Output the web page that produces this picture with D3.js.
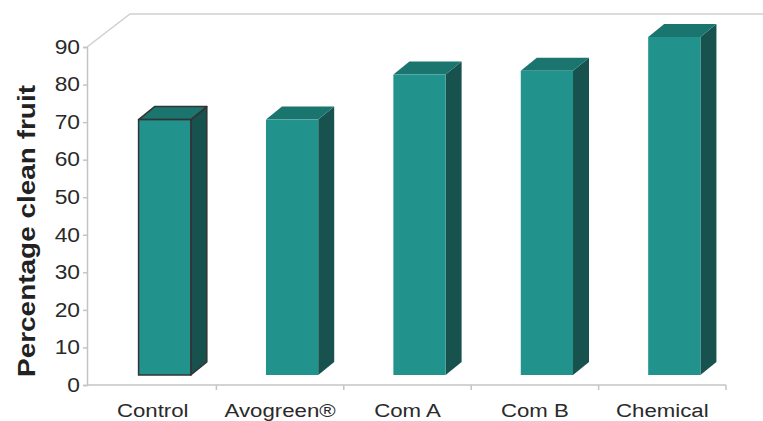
<!DOCTYPE html>
<html>
<head>
<meta charset="utf-8">
<script src="https://cdn.jsdelivr.net/npm/d3@7"></script>
<style>
  html, body { margin: 0; padding: 0; background: #fff; }
  svg { display: block; font-family: "Liberation Sans", Arial, sans-serif; }
</style>
</head>
<body>
<svg id="chart" width="763" height="421"></svg>
<script>
// Treatments and the share of clean fruit for each
const categories = ["Control", "Avogreen®", "Com A", "Com B", "Chemical"];
const values = [68, 68, 80, 81, 90];
const yTicks = [0, 10, 20, 30, 40, 50, 60, 70, 80, 90];
const outlined = [true, false, false, false, false];

const svg = d3.select("#chart");
const W = 763, H = 421;
const stretch = 1.17; // labels are set slightly wide

const x = d3.scaleBand().domain(categories).range([89, 726]).padding(0);
const y = d3.scaleLinear().domain([0, 90]).range([385, 47]);

// 3D projection offsets
const wallDx = 43, wallDy = -33;       // depth of the back wall
const barShiftX = 12, barShiftY = -10; // bars sit part-way into the depth
const sideDx = 16, sideDy = -13;       // depth of each column
const barW = x.bandwidth() * 0.41;

// Back wall outline: left edge, diagonal and top edge
svg.append("path")
  .attr("d", `M${x.range()[0] - 2},${y(90)} L${x.range()[0] - 2 + wallDx},${y(90) + wallDy} L${W},${y(90) + wallDy}`)
  .attr("fill", "none").attr("stroke", "#cfcfcf").attr("stroke-width", 1.5);

// Value axis
const yAxis = svg.append("g")
  .attr("transform", `translate(${x.range()[0] - 2},0)`)
  .call(d3.axisLeft(y).tickValues(yTicks).tickSize(4).tickPadding(3));
yAxis.select(".domain").attr("stroke", "#c4c4c4").attr("stroke-width", 1.5);
yAxis.selectAll(".tick line").attr("stroke", "#c4c4c4").attr("stroke-width", 1.5);
yAxis.selectAll("text")
  .attr("font-size", 19.5).attr("fill", "#2a2a2a")
  .attr("font-family", "'Liberation Sans', Arial, sans-serif")
  .attr("x", -7 / stretch)
  .attr("transform", `scale(${stretch},1)`);

// Category axis: baseline, boundary ticks and labels
const xAxis = svg.append("g").attr("transform", `translate(0,${y(0)})`);
xAxis.append("line")
  .attr("x1", x.range()[0] - 2).attr("x2", x.range()[1])
  .attr("stroke", "#c4c4c4").attr("stroke-width", 1.5);
xAxis.selectAll("line.bound")
  .data(categories)
  .join("line").attr("class", "bound")
  .attr("x1", d => x(d) + x.bandwidth()).attr("x2", d => x(d) + x.bandwidth())
  .attr("y1", 0).attr("y2", 5)
  .attr("stroke", "#c4c4c4").attr("stroke-width", 1.5);
xAxis.selectAll("g.lab")
  .data(categories)
  .join("g").attr("class", "lab")
  .attr("transform", d => `translate(${x(d) + x.bandwidth() / 2},32) scale(${stretch},1)`)
  .append("text")
  .attr("text-anchor", "middle")
  .attr("font-size", 19).attr("fill", "#2a2a2a")
  .text(d => d);

// Columns
const bars = svg.append("g");
categories.forEach((c, i) => {
  const v = values[i];
  const x0 = x(c) + (x.bandwidth() - barW) / 2 + barShiftX;
  const x1 = x0 + barW;
  const yt = y(v) + barShiftY;
  const yb = y(0) + barShiftY;
  const g = bars.append("g");
  const stroke = outlined[i] ? "#333" : "none";
  // side face
  g.append("path")
    .attr("d", `M${x1},${yt} L${x1 + sideDx},${yt + sideDy} L${x1 + sideDx},${yb + sideDy} L${x1},${yb} Z`)
    .attr("fill", "#17524e").attr("stroke", stroke).attr("stroke-width", 1.5).attr("stroke-linejoin", "round");
  // top face
  g.append("path")
    .attr("d", `M${x0},${yt} L${x0 + sideDx},${yt + sideDy} L${x1 + sideDx},${yt + sideDy} L${x1},${yt} Z`)
    .attr("fill", "#1b756f").attr("stroke", stroke).attr("stroke-width", 1.5).attr("stroke-linejoin", "round");
  // front face
  g.append("rect")
    .attr("x", x0).attr("y", yt).attr("width", barW).attr("height", yb - yt)
    .attr("fill", "#21938c").attr("stroke", stroke).attr("stroke-width", 1.5);
});

// Value axis title
svg.append("text")
  .attr("transform", `translate(35,231) rotate(-90)`)
  .attr("text-anchor", "middle")
  .attr("font-size", 23).attr("font-weight", "bold").attr("fill", "#222")
  .attr("textLength", 292).attr("lengthAdjust", "spacingAndGlyphs")
  .text("Percentage clean fruit");
</script>
</body>
</html>
